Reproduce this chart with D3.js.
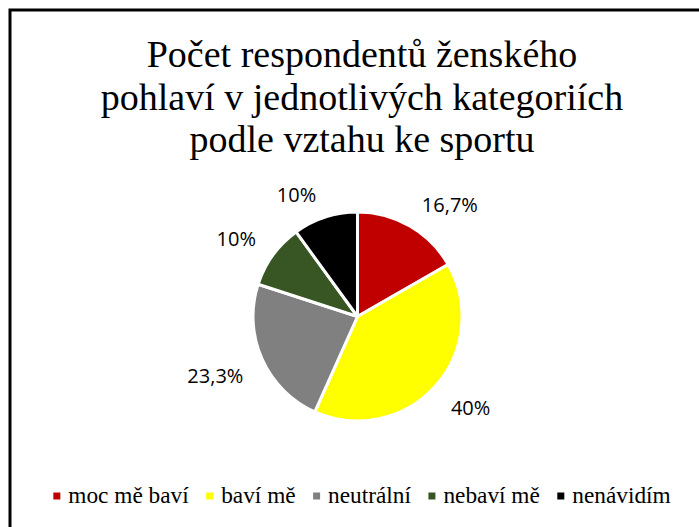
<!DOCTYPE html>
<html><head><meta charset="utf-8">
<script src="https://cdn.jsdelivr.net/npm/d3@7"></script>
<style>body{margin:0;background:#fff}svg{display:block}
.serif{font-family:"Liberation Serif","Times New Roman",Times,"DejaVu Serif",serif}
.sans{font-family:"Open Sans","Noto Sans",sans-serif}
</style>
</head><body>
<svg id="c" width="699" height="527"></svg>
<script>
const titleLines = ["Počet respondentů ženského", "pohlaví v jednotlivých kategoriích", "podle vztahu ke sportu"];
const categories = ["moc mě baví", "baví mě", "neutrální", "nebaví mě", "nenávidím"];
const values = [16.7, 40, 23.3, 10, 10];
const labels = ["16,7%", "40%", "23,3%", "10%", "10%"];
const colors = ["#C00000", "#FFFF00", "#808080", "#375623", "#000000"];

const svg = d3.select("#c");
svg.append("rect").attr("x", 10).attr("y", 10).attr("width", 720).attr("height", 560)
  .attr("fill", "#fff").attr("stroke", "#000").attr("stroke-width", 3);

const tcx = 362;
svg.append("g").selectAll("text").data(titleLines).join("text")
  .attr("class", "serif")
  .attr("x", tcx).attr("y", (d, i) => 67 + i * 42.5)
  .attr("text-anchor", "middle")
  .attr("font-size", 38).attr("fill", "#000").text(d => d);

const cx = 357.5, cy = 316.5, R = 104.5;
const pie = d3.pie().sort(null).value(d => d)(values);
const arc = d3.arc().innerRadius(0).outerRadius(R);
const g = svg.append("g").attr("transform", `translate(${cx},${cy})`);
g.selectAll("path").data(pie).join("path")
  .attr("d", arc).attr("fill", (d, i) => colors[i])
  .attr("stroke", "#fff").attr("stroke-width", 3).attr("stroke-linejoin", "round");

const lg = g.append("g");
lg.selectAll("text").data(pie).join("text")
  .attr("class", "sans").attr("font-size", 20)
  .attr("fill", "#000").attr("text-anchor", "middle")
  .text((d, i) => labels[i])
  .each(function(d) {
    const a = (d.startAngle + d.endAngle) / 2;
    const bb = this.getBBox();
    const hw = bb.width / 2 + 4, hh = 9;
    const r = R + 16;
    const px = r * Math.sin(a), py = -r * Math.cos(a);
    const x = px + hw * Math.sign(Math.sin(a));
    const y = py - hh * Math.sign(Math.cos(a));
    d3.select(this).attr("x", x).attr("y", y + 9);
  });

// legend
const leg = svg.append("g");
const items = leg.selectAll("g").data(categories).join("g");
items.append("rect").attr("width", 7).attr("height", 7).attr("y", -10.5)
  .attr("fill", (d, i) => colors[i]);
items.append("text").attr("class", "serif").attr("x", 15).attr("y", 0)
  .attr("font-size", 23.3).attr("fill", "#000").text(d => d);
const widths = [];
items.each(function() {
  const w = d3.select(this).select("text").node().getComputedTextLength() + 15;
  widths.push(w);
});
const gap = 17.5;
const total = d3.sum(widths) + gap * (widths.length - 1);
let x0 = 362 - total / 2;
items.attr("transform", (d, i) => {
  const t = `translate(${x0},503)`;
  x0 += widths[i] + gap;
  return t;
});
</script>
</body></html>
